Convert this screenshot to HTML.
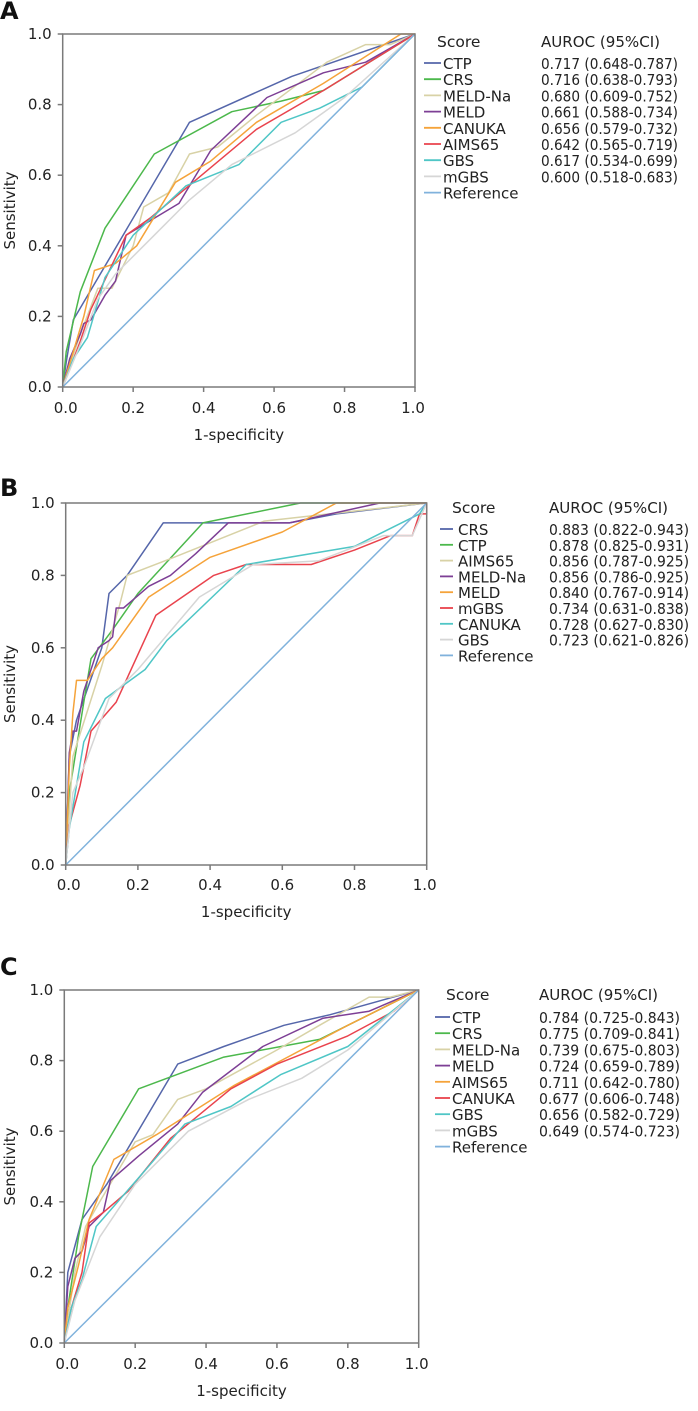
<!DOCTYPE html>
<html><head><meta charset="utf-8">
<style>
html,body{margin:0;padding:0;background:#fff;}
svg{display:block;font-family:"DejaVu Sans","Liberation Sans",sans-serif;}
</style></head>
<body>
<svg id="fig" width="698" height="1411" viewBox="0 0 698 1411" xmlns="http://www.w3.org/2000/svg"></svg>
<script>
// ---------- Panel A data ----------
const aNames = ["CTP","CRS","MELD-Na","MELD","CANUKA","AIMS65","GBS","mGBS"];
const aAuroc = ["0.717 (0.648-0.787)","0.716 (0.638-0.793)","0.680 (0.609-0.752)","0.661 (0.588-0.734)","0.656 (0.579-0.732)","0.642 (0.565-0.719)","0.617 (0.534-0.699)","0.600 (0.518-0.683)"];
const aCTPx=[0,0.01,0.03,0.36,0.65,1], aCTPy=[0,0.07,0.19,0.75,0.88,1];
const aCRSx=[0,0.01,0.05,0.12,0.26,0.48,0.62,0.74,1], aCRSy=[0,0.1,0.27,0.45,0.66,0.78,0.81,0.84,1];
const aNax=[0,0.05,0.1,0.14,0.2,0.23,0.3,0.36,0.44,0.55,0.75,0.86,0.93,1], aNay=[0,0.15,0.28,0.28,0.4,0.51,0.55,0.66,0.68,0.77,0.92,0.97,0.97,1];
const aMELDx=[0,0.02,0.05,0.06,0.08,0.12,0.15,0.18,0.28,0.33,0.42,0.58,0.74,0.86,1], aMELDy=[0,0.08,0.15,0.18,0.19,0.26,0.3,0.43,0.49,0.52,0.67,0.82,0.89,0.92,1];
const aCANx=[0,0.03,0.06,0.09,0.15,0.21,0.32,0.42,0.55,0.74,0.96,1], aCANy=[0,0.1,0.2,0.33,0.35,0.4,0.58,0.64,0.75,0.86,1,1];
const aAIMx=[0,0.02,0.05,0.08,0.18,0.25,0.37,0.55,0.74,1], aAIMy=[0,0.05,0.13,0.22,0.43,0.48,0.58,0.73,0.84,1];
const aGBSx=[0,0.03,0.07,0.12,0.2,0.35,0.5,0.62,0.73,0.85,1], aGBSy=[0,0.08,0.14,0.31,0.43,0.57,0.63,0.75,0.79,0.85,1];
const amGBSx=[0,0.05,0.1,0.15,0.26,0.36,0.48,0.66,0.8,1], amGBSy=[0,0.12,0.25,0.32,0.43,0.53,0.63,0.72,0.82,1];
// ---------- Panel B data ----------
const bNames = ["CRS","CTP","AIMS65","MELD-Na","MELD","mGBS","CANUKA","GBS"];
const bAuroc = ["0.883 (0.822-0.943)","0.878 (0.825-0.931)","0.856 (0.787-0.925)","0.856 (0.786-0.925)","0.840 (0.767-0.914)","0.734 (0.631-0.838)","0.728 (0.627-0.830)","0.723 (0.621-0.826)"];
const bCRSx=[0,0.01,0.03,0.1,0.12,0.17,0.27,0.62,0.75,1], bCRSy=[0,0.3,0.4,0.6,0.75,0.8,0.945,0.945,0.97,1];
const bCTPx=[0,0.01,0.05,0.07,0.13,0.2,0.38,0.65,1], bCTPy=[0,0.2,0.45,0.57,0.65,0.75,0.945,1,1];
const bAIMx=[0,0.02,0.1,0.15,0.17,0.3,0.55,1], bAIMy=[0,0.3,0.55,0.72,0.8,0.85,0.95,1];
const bNax=[0,0.01,0.02,0.03,0.05,0.09,0.12,0.13,0.14,0.16,0.23,0.29,0.36,0.45,0.62,0.87,1], bNay=[0,0.31,0.37,0.37,0.48,0.6,0.62,0.63,0.71,0.71,0.77,0.8,0.86,0.945,0.945,1,1];
const bMELDx=[0,0.01,0.02,0.03,0.06,0.1,0.13,0.23,0.4,0.6,0.75,1], bMELDy=[0,0.27,0.42,0.51,0.51,0.57,0.6,0.74,0.85,0.92,1,1];
const bmGBSx=[0,0.01,0.04,0.07,0.14,0.25,0.41,0.5,0.68,0.8,0.9,0.96,0.98,1,1], bmGBSy=[0,0.11,0.22,0.37,0.45,0.69,0.8,0.83,0.83,0.87,0.91,0.91,0.97,0.97,1];
const bCANx=[0,0.01,0.05,0.11,0.22,0.28,0.5,0.8,0.98,1], bCANy=[0,0.1,0.34,0.46,0.54,0.62,0.83,0.88,0.97,1];
const bGBSx=[0,0.02,0.05,0.12,0.2,0.37,0.52,0.7,0.88,0.96,1], bGBSy=[0,0.2,0.27,0.46,0.54,0.74,0.83,0.84,0.91,0.91,1];
// ---------- Panel C data ----------
const cNames = ["CTP","CRS","MELD-Na","MELD","AIMS65","CANUKA","GBS","mGBS"];
const cAuroc = ["0.784 (0.725-0.843)","0.775 (0.709-0.841)","0.739 (0.675-0.803)","0.724 (0.659-0.789)","0.711 (0.642-0.780)","0.677 (0.606-0.748)","0.656 (0.582-0.729)","0.649 (0.574-0.723)"];
const cCTPx=[0,0.01,0.05,0.12,0.32,0.45,0.62,0.75,1], cCTPy=[0,0.2,0.35,0.45,0.79,0.84,0.9,0.93,1];
const cCRSx=[0,0.01,0.04,0.08,0.21,0.45,0.72,1], cCRSy=[0,0.1,0.3,0.5,0.72,0.81,0.86,1];
const cNax=[0,0.03,0.06,0.1,0.2,0.25,0.32,0.4,0.6,0.72,0.86,0.92,1], cNay=[0,0.2,0.33,0.4,0.57,0.59,0.69,0.72,0.83,0.9,0.98,0.98,1];
const cMELDx=[0,0.01,0.03,0.05,0.07,0.11,0.13,0.21,0.32,0.39,0.56,0.73,0.86,1], cMELDy=[0,0.16,0.24,0.26,0.33,0.37,0.46,0.53,0.62,0.71,0.84,0.92,0.94,1];
const cAIMx=[0,0.01,0.04,0.07,0.14,0.26,0.48,0.8,1], cAIMy=[0,0.1,0.22,0.35,0.52,0.59,0.73,0.9,1];
const cCANx=[0,0.02,0.05,0.07,0.11,0.18,0.3,0.47,0.6,0.8,0.93,1], cCANy=[0,0.1,0.2,0.34,0.37,0.43,0.58,0.72,0.79,0.87,0.94,1];
const cGBSx=[0,0.02,0.05,0.09,0.22,0.34,0.47,0.61,0.8,1], cGBSy=[0,0.1,0.18,0.33,0.48,0.62,0.67,0.76,0.84,1];
const cmGBSx=[0,0.03,0.1,0.2,0.35,0.52,0.67,0.8,1], cmGBSy=[0,0.12,0.3,0.45,0.6,0.69,0.75,0.83,1];
const refX=[0,1], refY=[0,1];
const tickVals=[0,0.2,0.4,0.6,0.8,1.0];
const tickLabels=["0.0","0.2","0.4","0.6","0.8","1.0"];

const C={blue:"#5566aa",green:"#4cb84c",khaki:"#d8d2a6",purple:"#7d3f95",orange:"#f5a33a",red:"#e9434d",cyan:"#4fc6c6",gray:"#d6d6d6",ref:"#80b2dc"};
const NS="http://www.w3.org/2000/svg";
const svg=document.getElementById("fig");
function mk(tag,attrs,parent){const e=document.createElementNS(NS,tag);for(const k in attrs)e.setAttribute(k,attrs[k]);(parent||svg).appendChild(e);return e;}

function panel(p){
  const g=mk("g",{});
  
  
  const sx=v=>p.x0+v*(p.x1-p.x0), sy=v=>p.y0-v*(p.y0-p.y1);
  const lab=mk("text",{x:0,y:p.labY,"font-size":"24","font-weight":"bold",fill:"#111"},g);lab.textContent=p.id;
  
  
  p.series.forEach((s,i)=>{
    const pts=s.x.map((v,j)=>sx(v).toFixed(1)+","+sy(s.y[j]).toFixed(1)).join(" ");
    const pl=mk("polyline",{points:pts,fill:"none",stroke:s.c,"stroke-width":"1.5","stroke-linejoin":"round"},g);
    
    
  });
  const fr=mk("rect",{x:p.x0,y:p.y1,width:p.x1-p.x0,height:p.y0-p.y1,fill:"none",stroke:"#7a7a7a","stroke-width":"1.5"},g);
  
  
  tickVals.forEach((v,i)=>{
    mk("line",{x1:sx(v),x2:sx(v),y1:p.y0,y2:p.y0+5,stroke:"#7a7a7a","stroke-width":"1.5"},g);
    mk("line",{x1:p.x0-5,x2:p.x0,y1:sy(v),y2:sy(v),stroke:"#7a7a7a","stroke-width":"1.5"},g);
    const tx=mk("text",{x:sx(v)+(i==0?3:i==5?-2:0),y:p.tickY,"font-size":"15","text-anchor":"middle",fill:"#222"},g);tx.textContent=tickLabels[i];
    
    
    const ty=mk("text",{x:p.x0-11,y:sy(v)+5,"font-size":"15","text-anchor":"end",fill:"#222"},g);ty.textContent=tickLabels[i];
    
    
  });
  const xt=mk("text",{x:(p.x0+p.x1)/2,y:p.titleY,"font-size":"15","text-anchor":"middle",fill:"#222"},g);xt.textContent="1-specificity";
  
  
  const cy=(p.y0+p.y1)/2;
  const yt=mk("text",{x:15,y:cy,"font-size":"15","text-anchor":"middle",fill:"#222",transform:"rotate(-90 15 "+cy+")"},g);yt.textContent="Sensitivity";
  
  
  const L=p.leg;
  const sc=mk("text",{x:L.tx-6,y:L.top,"font-size":"15.5",fill:"#222"},g);sc.textContent="Score";
  
  
  const ah=mk("text",{x:L.ax,y:L.top,"font-size":"15.5",fill:"#222",textLength:"119",lengthAdjust:"spacingAndGlyphs"},g);ah.textContent="AUROC (95%CI)";
  
  
  p.series.forEach((s,i)=>{
    const y=L.r0+i*L.dy;
    mk("line",{x1:L.lx0,x2:L.lx1,y1:y,y2:y,stroke:s.c,"stroke-width":"1.8"},g);
    const t=mk("text",{x:L.tx,y:y+6,"font-size":"15",fill:"#222"},g);t.textContent=s.n;
    
    
    if(s.a){const a=mk("text",{x:L.ax,y:y+6,"font-size":"15.5",fill:"#222",textLength:L.aw,lengthAdjust:"spacingAndGlyphs"},g);a.textContent=s.a;
      
      }
  });
}
function ser(names,aur,xs,ys,cols){const r=names.map((n,i)=>({n:n,a:aur[i],x:xs[i],y:ys[i],c:cols[i]}));r.push({n:"Reference",a:"",x:refX,y:refY,c:C.ref});return r;}

panel({id:"A",labY:19,x0:62.7,x1:415,y1:34,y0:387,tickY:413,titleY:440,
  leg:{top:47,r0:63,dy:16.2,lx0:424,lx1:441,tx:443,ax:541,aw:137},
  series:ser(aNames,aAuroc,[aCTPx,aCRSx,aNax,aMELDx,aCANx,aAIMx,aGBSx,amGBSx],[aCTPy,aCRSy,aNay,aMELDy,aCANy,aAIMy,aGBSy,amGBSy],[C.blue,C.green,C.khaki,C.purple,C.orange,C.red,C.cyan,C.gray])});
panel({id:"B",labY:496,x0:65.7,x1:426.7,y1:503,y0:865,tickY:890,titleY:917,
  leg:{top:513,r0:529,dy:15.8,lx0:440,lx1:453,tx:458,ax:549,aw:140},
  series:ser(bNames,bAuroc,[bCRSx,bCTPx,bAIMx,bNax,bMELDx,bmGBSx,bCANx,bGBSx],[bCRSy,bCTPy,bAIMy,bNay,bMELDy,bmGBSy,bCANy,bGBSy],[C.blue,C.green,C.khaki,C.purple,C.orange,C.red,C.cyan,C.gray])});
panel({id:"C",labY:975,x0:64.3,x1:418.7,y1:990,y0:1343,tickY:1369,titleY:1396,
  leg:{top:1000,r0:1017,dy:16.2,lx0:435,lx1:450,tx:452,ax:539,aw:141},
  series:ser(cNames,cAuroc,[cCTPx,cCRSx,cNax,cMELDx,cAIMx,cCANx,cGBSx,cmGBSx],[cCTPy,cCRSy,cNay,cMELDy,cAIMy,cCANy,cGBSy,cmGBSy],[C.blue,C.green,C.khaki,C.purple,C.orange,C.red,C.cyan,C.gray])});
</script>
</body></html>
